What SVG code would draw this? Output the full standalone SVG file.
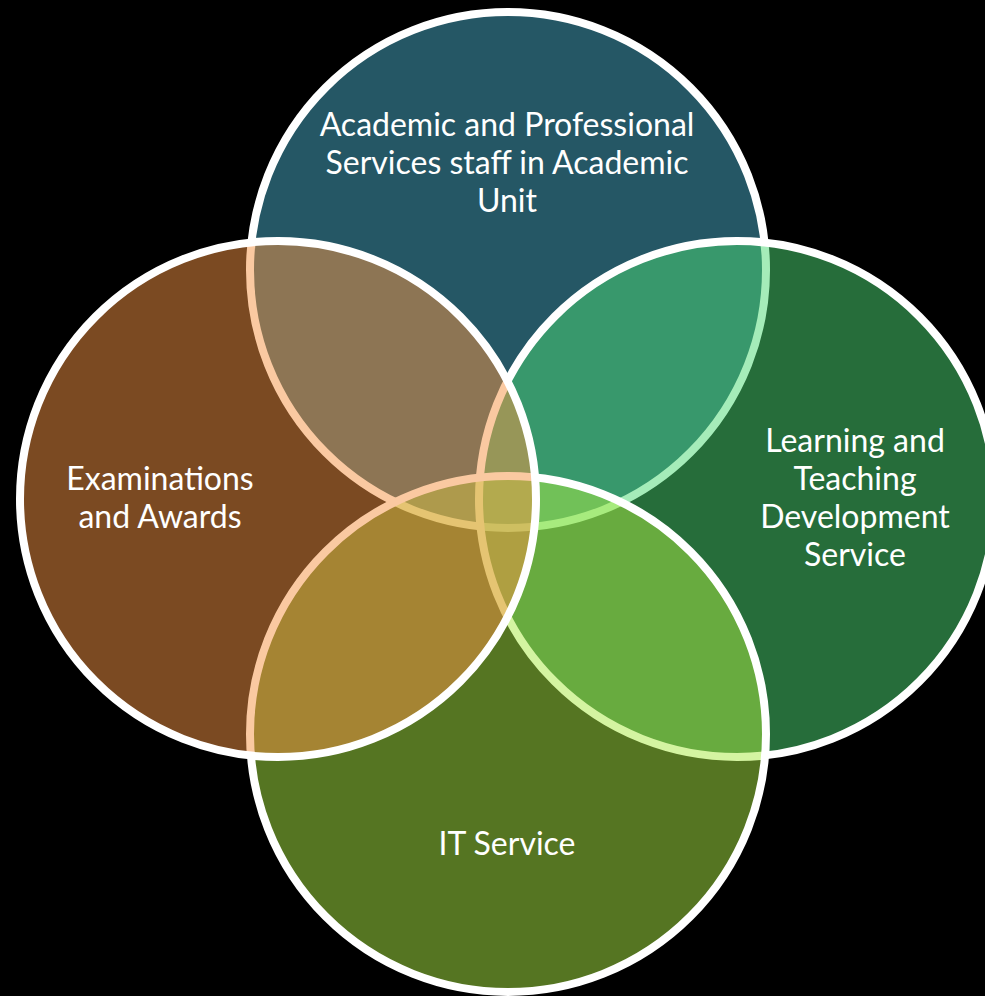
<svg xmlns="http://www.w3.org/2000/svg" width="985" height="996" viewBox="0 0 985 996">
<style>
.c{stroke:#FFFFFF;stroke-width:8}
.t{fill:#FFFFFF;font-family:Lato,"Liberation Sans",sans-serif;font-size:32px;text-anchor:middle}
</style>
<rect width="985" height="996" fill="#000000"/>
<g id="academic-unit">
<circle class="c" cx="508" cy="270" r="258" fill="rgb(74,174,202)" fill-opacity="0.5"/>
<text class="t" x="507" y="136">Academic and Professional</text>
<text class="t" x="507" y="174">Services staff in Academic</text>
<text class="t" x="507" y="212">Unit</text>
</g>
<g id="ltds">
<circle class="c" cx="737" cy="499" r="258" fill="rgb(76,218,116)" fill-opacity="0.5"/>
<text class="t" x="855" y="452">Learning and</text>
<text class="t" x="855" y="490">Teaching</text>
<text class="t" x="855" y="528">Development</text>
<text class="t" x="855" y="566">Service</text>
</g>
<g id="it-service">
<circle class="c" cx="508" cy="734" r="258" fill="rgb(170,234,68)" fill-opacity="0.5"/>
<text class="t" x="507" y="855">IT Service</text>
</g>
<g id="exams-awards">
<circle class="c" cx="278" cy="499" r="258" fill="rgb(246,148,68)" fill-opacity="0.5"/>
<text class="t" x="160" y="490">Examinations</text>
<text class="t" x="160" y="528">and Awards</text>
</g>
</svg>
